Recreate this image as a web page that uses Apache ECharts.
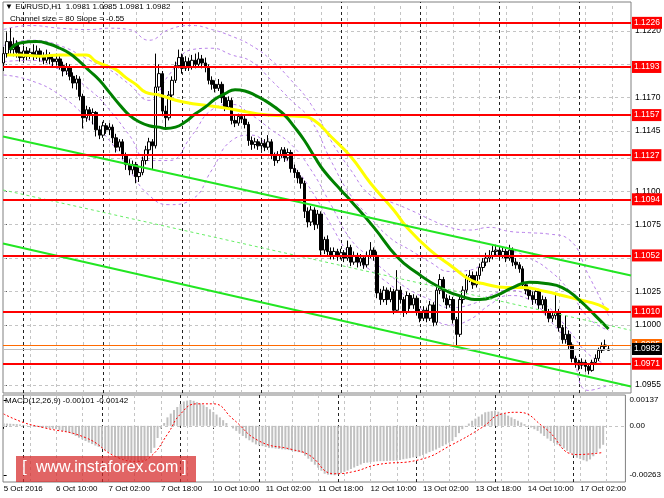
<!DOCTYPE html>
<html><head><meta charset="utf-8">
<script src="https://cdn.jsdelivr.net/npm/echarts@6/dist/echarts.min.js"></script>
<style>html,body{margin:0;padding:0;background:#fff}#c{width:664px;height:498px}</style>
</head><body><div id="c"></div>
<script>
// ---------- DATA (EURUSD H1) ----------
const opens = [
1.1196,1.1203,1.1212,1.1206,1.1210,1.1204,1.1200,1.1205,1.1201,1.1204,
1.1202,1.1205,1.1201,1.1198,1.1202,1.1199,1.1197,1.1199,1.1194,1.1190,
1.1193,1.1186,1.1181,1.1184,1.1171,1.1155,1.1161,1.1157,1.1159,1.1146,
1.1142,1.1149,1.1146,1.1148,1.1140,1.1133,1.1137,1.1127,1.1120,1.1116,
1.1120,1.1111,1.1114,1.1123,1.1131,1.1137,1.1134,1.1178,1.1188,1.1160,
1.1155,1.1172,1.1183,1.1194,1.1200,1.1192,1.1197,1.1193,1.1198,1.1195,
1.1199,1.1196,1.1193,1.1183,1.1180,1.1177,1.1180,1.1170,1.1163,1.1168,
1.1153,1.1151,1.1156,1.1154,1.1150,1.1138,1.1135,1.1137,1.1134,1.1136,
1.1133,1.1137,1.1127,1.1123,1.1127,1.1131,1.1125,1.1129,1.1117,1.1114,
1.1110,1.1106,1.1085,1.1077,1.1086,1.1075,1.1083,1.1056,1.1064,1.1055,
1.1052,1.1055,1.1051,1.1054,1.1050,1.1058,1.1047,1.1052,1.1047,1.1050,
1.1045,1.1052,1.1056,1.1052,1.1024,1.1019,1.1026,1.1019,1.1025,1.1011,
1.1026,1.1019,1.1010,1.1022,1.1015,1.1020,1.1010,1.1005,1.1011,1.1005,
1.1015,1.1002,1.1026,1.1034,1.1020,1.1015,1.1019,1.1004,1.0993,1.1019,
1.1026,1.1035,1.1037,1.1030,1.1037,1.1043,1.1047,1.1050,1.1052,1.1055,
1.1056,1.1052,1.1055,1.1050,1.1056,1.1047,1.1045,1.1042,1.1030,1.1026,
1.1022,1.1019,1.1025,1.1015,1.1019,1.1010,1.1005,1.1007,1.1010,1.0998,
1.0989,1.0993,1.0985,1.0975,1.0972,1.0970,1.0972,1.0969,1.0966,1.0972,
1.0975,1.0981,1.0984,1.0981];
const closes = [
1.1203,1.1212,1.1206,1.1210,1.1204,1.1200,1.1205,1.1201,1.1204,1.1202,
1.1205,1.1201,1.1198,1.1202,1.1199,1.1197,1.1199,1.1194,1.1190,1.1193,
1.1186,1.1181,1.1184,1.1171,1.1155,1.1161,1.1157,1.1159,1.1146,1.1142,
1.1149,1.1146,1.1148,1.1140,1.1133,1.1137,1.1127,1.1120,1.1116,1.1120,
1.1111,1.1114,1.1123,1.1131,1.1137,1.1134,1.1178,1.1188,1.1160,1.1155,
1.1172,1.1183,1.1194,1.1200,1.1192,1.1197,1.1193,1.1198,1.1195,1.1199,
1.1196,1.1193,1.1183,1.1180,1.1177,1.1180,1.1170,1.1163,1.1168,1.1153,
1.1151,1.1156,1.1154,1.1150,1.1138,1.1135,1.1137,1.1134,1.1136,1.1133,
1.1137,1.1127,1.1123,1.1127,1.1131,1.1125,1.1129,1.1117,1.1114,1.1110,
1.1106,1.1085,1.1077,1.1086,1.1075,1.1083,1.1056,1.1064,1.1055,1.1052,
1.1055,1.1051,1.1054,1.1050,1.1058,1.1047,1.1052,1.1047,1.1050,1.1045,
1.1052,1.1056,1.1052,1.1024,1.1019,1.1026,1.1019,1.1025,1.1011,1.1026,
1.1019,1.1010,1.1022,1.1015,1.1020,1.1010,1.1005,1.1011,1.1005,1.1015,
1.1002,1.1026,1.1034,1.1020,1.1015,1.1019,1.1004,1.0993,1.1019,1.1026,
1.1035,1.1037,1.1030,1.1037,1.1043,1.1047,1.1050,1.1052,1.1055,1.1056,
1.1052,1.1055,1.1050,1.1056,1.1047,1.1045,1.1042,1.1030,1.1026,1.1022,
1.1019,1.1025,1.1015,1.1019,1.1010,1.1005,1.1007,1.1010,1.0998,1.0989,
1.0993,1.0985,1.0975,1.0972,1.0970,1.0972,1.0969,1.0966,1.0972,1.0975,
1.0981,1.0984,1.0985,1.0982];
const lows = [
1.1190,1.1200,1.1203,1.1201,1.1200,1.1197,1.1198,1.1198,1.1199,1.1198,
1.1199,1.1197,1.1195,1.1196,1.1195,1.1193,1.1194,1.1191,1.1186,1.1187,
1.1183,1.1177,1.1176,1.1168,1.1147,1.1152,1.1153,1.1150,1.1141,1.1139,
1.1140,1.1143,1.1142,1.1136,1.1129,1.1130,1.1124,1.1116,1.1112,1.1113,
1.1106,1.1107,1.1112,1.1120,1.1128,1.1116,1.1132,1.1175,1.1157,1.1147,
1.1153,1.1170,1.1181,1.1192,1.1188,1.1190,1.1190,1.1191,1.1192,1.1193,
1.1192,1.1189,1.1180,1.1176,1.1174,1.1175,1.1166,1.1160,1.1161,1.1150,
1.1148,1.1149,1.1151,1.1147,1.1134,1.1131,1.1132,1.1131,1.1131,1.1130,
1.1131,1.1124,1.1119,1.1121,1.1125,1.1122,1.1123,1.1114,1.1110,1.1106,
1.1102,1.1080,1.1073,1.1074,1.1071,1.1072,1.1052,1.1053,1.1051,1.1049,
1.1049,1.1048,1.1049,1.1047,1.1048,1.1044,1.1045,1.1043,1.1044,1.1042,
1.1043,1.1050,1.1048,1.1020,1.1015,1.1017,1.1015,1.1017,1.1008,1.1009,
1.1016,1.1006,1.1008,1.1012,1.1012,1.1007,1.1002,1.1003,1.1002,1.1003,
1.0999,1.1000,1.1023,1.1017,1.1012,1.1013,1.1001,1.0985,1.0991,1.1016,
1.1023,1.1032,1.1027,1.1028,1.1034,1.1040,1.1044,1.1047,1.1049,1.1051,
1.1049,1.1050,1.1047,1.1048,1.1044,1.1042,1.1039,1.1027,1.1023,1.1019,
1.1015,1.1016,1.1012,1.1012,1.1007,1.1002,1.1002,1.1004,1.0995,1.0986,
1.0986,1.0982,1.0972,1.0968,1.0966,1.0967,1.0965,1.0963,1.0965,1.0970,
1.0973,1.0979,1.0981,1.0981];
const highs = [
1.1208,1.1219,1.1222,1.1215,1.1213,1.1208,1.1209,1.1208,1.1207,1.1210,
1.1209,1.1207,1.1204,1.1206,1.1204,1.1202,1.1203,1.1201,1.1197,1.1196,
1.1195,1.1189,1.1187,1.1186,1.1173,1.1164,1.1163,1.1162,1.1160,1.1149,
1.1152,1.1151,1.1151,1.1150,1.1143,1.1139,1.1139,1.1129,1.1124,1.1123,
1.1122,1.1118,1.1126,1.1134,1.1140,1.1139,1.1203,1.1195,1.1190,1.1164,
1.1175,1.1186,1.1197,1.1206,1.1203,1.1201,1.1200,1.1202,1.1203,1.1204,
1.1202,1.1200,1.1195,1.1186,1.1183,1.1184,1.1182,1.1172,1.1171,1.1170,
1.1157,1.1158,1.1158,1.1157,1.1152,1.1141,1.1140,1.1139,1.1140,1.1139,
1.1142,1.1139,1.1129,1.1130,1.1133,1.1133,1.1132,1.1131,1.1120,1.1116,
1.1112,1.1108,1.1088,1.1089,1.1088,1.1086,1.1085,1.1066,1.1067,1.1058,
1.1058,1.1057,1.1057,1.1056,1.1063,1.1060,1.1055,1.1054,1.1053,1.1052,
1.1055,1.1062,1.1058,1.1055,1.1027,1.1029,1.1028,1.1028,1.1027,1.1041,
1.1029,1.1021,1.1025,1.1024,1.1023,1.1022,1.1012,1.1014,1.1013,1.1018,
1.1017,1.1029,1.1038,1.1036,1.1023,1.1022,1.1021,1.1006,1.1022,1.1029,
1.1038,1.1041,1.1040,1.1040,1.1046,1.1050,1.1054,1.1056,1.1059,1.1060,
1.1059,1.1058,1.1057,1.1060,1.1058,1.1050,1.1047,1.1044,1.1032,1.1028,
1.1025,1.1027,1.1027,1.1022,1.1021,1.1012,1.1010,1.1024,1.1012,1.1000,
1.1007,1.0996,1.0987,1.0977,1.0974,1.0975,1.0974,1.0971,1.0974,1.0978,
1.0983,1.0987,1.0989,1.0985];

// moving averages (read at sample bars)
const greenBars = [2,5,10,14,17,20,23,26,29,32,35,38,41,44,47,49,52,55,58,61,64,67,70,73,76,79,82,85,88,91,94,97,102,105,112,119,125,132,139,144,149,154,159,164,169,174,179,183];
const greenVals = [1.1206,1.1211,1.1212,1.1210,1.1207,1.1203,1.1197,1.1190,1.1183,1.1174,1.1165,1.1157,1.1152,1.1149,1.1148,1.1147,1.1148,1.1152,1.1158,1.1163,1.1169,1.1173,1.1176,1.1175,1.1172,1.1168,1.1163,1.1157,1.1148,1.1138,1.1126,1.1115,1.1101,1.1093,1.1073,1.1051,1.1039,1.1028,1.1021,1.1019,1.1022,1.1028,1.1032,1.1031,1.1028,1.1019,1.1007,1.0997];
const yellowBars = [1,5,11,17,22,25,28,31,34,37,40,43,47,54,65,70,80,90,94,99,105,111,118,122,129,136,141,145,152,157,164,169,174,180,183];
const yellowVals = [1.1202,1.1202,1.1201,1.1202,1.1202,1.1202,1.1197,1.1194,1.1191,1.1185,1.1180,1.1174,1.1172,1.1167,1.1163,1.1161,1.1157,1.1156,1.1153,1.1141,1.1126,1.1106,1.1086,1.1073,1.1056,1.1043,1.1034,1.1031,1.1028,1.1028,1.1025,1.1022,1.1019,1.1015,1.1011];

// envelope / band lines (violet dashed)
const bandBars = [0,8,17,26,32,38,44,50,57,63,69,75,81,87,93,99,105,111,117,123,129,135,141,147,153,159,165,171,177,183];
const bandUpper1 = [1.1221,1.1224,1.1222,1.1221,1.1222,1.1221,1.1213,1.1221,1.1224,1.1221,1.1216,1.1209,1.1198,1.1183,1.1165,1.1138,1.1116,1.1097,1.1092,1.1086,1.1079,1.1073,1.1071,1.1073,1.1070,1.1069,1.1068,1.1064,1.1037,1.1007];
const bandLower1 = [1.1187,1.1183,1.1172,1.1153,1.1138,1.1116,1.1097,1.1090,1.1094,1.1116,1.1138,1.1142,1.1131,1.1120,1.1101,1.1075,1.1052,1.1041,1.1030,1.1019,1.1007,1.1000,1.1004,1.1015,1.1022,1.1019,1.1004,1.0985,1.0951,1.0955];
const bandUpper2 = [1.1209,1.1213,1.1209,1.1198,1.1191,1.1180,1.1168,1.1187,1.1206,1.1207,1.1202,1.1197,1.1183,1.1168,1.1153,1.1123,1.1097,1.1080,1.1065,1.1056,1.1047,1.1040,1.1041,1.1050,1.1055,1.1050,1.1041,1.1026,1.1005,1.0996];
const bandLower2 = [1.1197,1.1198,1.1191,1.1176,1.1161,1.1142,1.1123,1.1123,1.1142,1.1161,1.1165,1.1157,1.1146,1.1135,1.1116,1.1090,1.1064,1.1050,1.1037,1.1026,1.1019,1.1013,1.1015,1.1022,1.1026,1.1022,1.1013,1.0996,1.0978,1.0970];

// regression channel (ends at the chart edges)
const channelUpper = [1.1141, 1.1037];
const channelMiddle = [1.1101, 1.0996];
const channelLower = [1.1061, 1.0954];

// horizontal levels
const levels = [1.1226, 1.1193, 1.1157, 1.1127, 1.1094, 1.1052, 1.1010, 1.0971];
const orangeLevel = 1.0985;
const bidPrice = 1.0982;

// MACD(12,26,9)
const macdHist = [
0.00013,0.00012,0.00011,0.00010,0.00009,0.00007,0.00005,0.00002,0,-0.00002,
-0.00004,-0.00007,-0.00009,-0.00011,-0.00013,-0.00016,-0.00018,-0.00022,-0.00027,-0.00031,
-0.00036,-0.00045,-0.00054,-0.00063,-0.00072,-0.00081,-0.00089,-0.00097,-0.00105,-0.00112,
-0.00120,-0.00130,-0.00140,-0.00150,-0.00160,-0.00170,-0.00174,-0.00178,-0.00181,-0.00183,
-0.00185,-0.00186,-0.00185,-0.00182,-0.00165,-0.00145,-0.00117,-0.00065,-0.00015,0.00015,
0.00045,0.00065,0.00084,0.00100,0.00116,0.00130,0.00134,0.00137,0.00133,0.00126,
0.00119,0.00110,0.00100,0.00088,0.00074,0.00060,0.00045,0.00030,0.00015,0,
-0.00014,-0.00027,-0.00041,-0.00054,-0.00066,-0.00077,-0.00088,-0.00099,-0.00104,-0.00108,
-0.00113,-0.00117,-0.00119,-0.00121,-0.00123,-0.00125,-0.00126,-0.00129,-0.00133,-0.00137,
-0.00140,-0.00144,-0.00159,-0.00175,-0.00191,-0.00207,-0.00223,-0.00239,-0.00255,-0.00260,
-0.00262,-0.00263,-0.00258,-0.00252,-0.00245,-0.00238,-0.00230,-0.00222,-0.00214,-0.00206,
-0.00198,-0.00196,-0.00193,-0.00191,-0.00189,-0.00188,-0.00188,-0.00187,-0.00186,-0.00186,
-0.00185,-0.00182,-0.00178,-0.00175,-0.00172,-0.00168,-0.00165,-0.00162,-0.00155,-0.00148,
-0.00140,-0.00133,-0.00126,-0.00117,-0.00108,-0.00099,-0.00090,-0.00081,-0.00060,-0.00039,
-0.00018,-0.00003,0.00012,0.00027,0.00038,0.00049,0.00061,0.00072,0.00075,0.00078,
0.00081,0.00075,0.00069,0.00063,0.00054,0.00045,0.00036,0.00027,0.00018,0.00009,
0,-0.00009,-0.00018,-0.00027,-0.00041,-0.00054,-0.00068,-0.00081,-0.00091,-0.00100,
-0.00110,-0.00120,-0.00133,-0.00145,-0.00158,-0.00170,-0.00176,-0.00183,-0.00189,-0.00179,
-0.00162,-0.00142,-0.00121,-0.00101];
const signalBars = [0,6,12,25,35,41,45,50,54,59,64,70,78,88,93,101,107,114,127,137,146,152,157,165,175,183];
const signalVals = [0.00063,0.00018,-0.00009,-0.00063,-0.00170,-0.00189,-0.00162,-0.00045,0.00063,0.00117,0.00117,0.00036,-0.00081,-0.00126,-0.00153,-0.00255,-0.00243,-0.00207,-0.00180,-0.00099,-0.00009,0.00063,0.00072,-0.00009,-0.00153,-0.00142];

// axes
const tickBars = [0,16,32,48,64,80,96,112,128,144,160,176];
const tickLabels = ['5 Oct 2016','6 Oct 10:00','7 Oct 02:00','7 Oct 18:00','10 Oct 10:00','11 Oct 02:00','11 Oct 18:00','12 Oct 10:00','13 Oct 02:00','13 Oct 18:00','14 Oct 10:00','17 Oct 02:00'];
const daySeparatorBars = [6,30,54,78,102,126,150,174];
const priceTicks = [1.0955,1.1000,1.1025,1.1050,1.1075,1.1100,1.1125,1.1145,1.1170,1.1195,1.1220];
const macdTicks = [-0.00263, 0, 0.00137];

// ---------- CHART ----------
const FONT = '"Liberation Sans", Arial, sans-serif';
const X_MIN = -0.2, X_MAX = 189.8;
const Y_MIN = 1.09491, Y_MAX = 1.12416;
const M_MIN = -0.00299, M_MAX = 0.00164;
const gridBars = [];
for (let b = 8; b < X_MAX; b += 8) gridBars.push(b);

const chart = echarts.init(document.getElementById('c'), null, {renderer: 'canvas'});

function helper(xi, extra) {
  return Object.assign({
    type: 'line', xAxisIndex: xi, yAxisIndex: xi, data: [], silent: true,
    showSymbol: false, clip: false, animation: false
  }, extra);
}
function ml(data, lineStyle, z) {
  return { silent: true, symbol: ['none','none'], precision: 5, animation: false,
    label: {show: false}, lineStyle: lineStyle, data: data, z: z };
}
function levelLabel(bg) {
  return { show: true, position: 'end', formatter: '{b}', distance: 1,
    backgroundColor: bg, color: '#fff', fontSize: 8.5, fontFamily: FONT,
    padding: [2, 2, 1, 2] };
}

const option = {
  animation: false,
  backgroundColor: '#ffffff',
  grid: [
    {left: 3, top: 2, width: 629, height: 391, show: true, borderColor: '#808080', borderWidth: 1, backgroundColor: '#fff'},
    {left: 3, top: 395, width: 629, height: 87, show: true, borderColor: '#808080', borderWidth: 1, backgroundColor: '#fff'}
  ],
  xAxis: [
    {type: 'value', gridIndex: 0, min: X_MIN, max: X_MAX, axisLine: {show: false}, axisTick: {show: false}, axisLabel: {show: false}, splitLine: {show: false}},
    {type: 'value', gridIndex: 1, min: X_MIN, max: X_MAX, axisLine: {show: false},
     axisTick: {show: true, customValues: tickBars, length: 3, lineStyle: {color: '#000'}},
     axisLabel: {customValues: tickBars, formatter: v => tickLabels[tickBars.indexOf(v)], align: 'left', margin: 3,
       fontSize: 8, fontFamily: FONT, color: '#000', hideOverlap: false},
     splitLine: {show: false}}
  ],
  yAxis: [
    {type: 'value', gridIndex: 0, position: 'right', min: Y_MIN, max: Y_MAX, axisLine: {show: false},
     axisTick: {show: true, customValues: priceTicks, length: 3, lineStyle: {color: '#000'}},
     axisLabel: {customValues: priceTicks, formatter: v => v.toFixed(4), margin: 4, fontSize: 8.5, fontFamily: FONT, color: '#000'},
     splitLine: {show: false}},
    {type: 'value', gridIndex: 1, position: 'right', min: M_MIN, max: M_MAX, axisLine: {show: false},
     axisTick: {show: true, customValues: macdTicks, length: 3, lineStyle: {color: '#000'}},
     axisLabel: {customValues: macdTicks, formatter: v => (v === 0 ? '0.00' : v.toFixed(5)), margin: 4, fontSize: 8, fontFamily: FONT, color: '#000'},
     splitLine: {show: false}}
  ],
  series: [
    // grid lines, main panel
    helper(0, {z: 1, markLine: ml(
      priceTicks.map(v => ({yAxis: v})).concat(gridBars.map(b => ({xAxis: b}))),
      {color: '#c4c4c4', type: [3, 3], width: 1}, 1)}),
    helper(0, {z: 1, markLine: ml(daySeparatorBars.map(b => ({xAxis: b})), {color: '#222', type: [3, 3], width: 1}, 1)}),
    // grid lines, MACD panel
    helper(1, {z: 1, markLine: ml(
      [{yAxis: 0}].concat(gridBars.map(b => ({xAxis: b}))),
      {color: '#c4c4c4', type: [3, 3], width: 1}, 1)}),
    helper(1, {z: 1, markLine: ml(daySeparatorBars.map(b => ({xAxis: b})), {color: '#222', type: [3, 3], width: 1}, 1)}),
    // candles
    {type: 'candlestick', xAxisIndex: 0, yAxisIndex: 0, z: 3, barWidth: 3,
     data: opens.map((o, i) => [i, o, closes[i], lows[i], highs[i]]),
     encode: {x: 0, y: [1, 2, 3, 4]},
     itemStyle: {color: '#ffffff', color0: '#000000', borderColor: '#000000', borderColor0: '#000000', borderWidth: 1}},
    // violet bands
    ...[bandUpper1, bandLower1, bandUpper2, bandLower2].map(arr => ({
      type: 'line', xAxisIndex: 0, yAxisIndex: 0, z: 2, smooth: 0.5, showSymbol: false, silent: true,
      data: bandBars.map((b, i) => [b, arr[i]]),
      lineStyle: {color: '#b982ea', width: 1, type: [3, 3]}})),
    // moving averages
    {type: 'line', xAxisIndex: 0, yAxisIndex: 0, z: 4, smooth: 0.5, showSymbol: false, silent: true,
     data: yellowBars.map((b, i) => [b, yellowVals[i]]), lineStyle: {color: '#ffff00', width: 3}},
    {type: 'line', xAxisIndex: 0, yAxisIndex: 0, z: 4, smooth: 0.5, showSymbol: false, silent: true,
     data: greenBars.map((b, i) => [b, greenVals[i]]), lineStyle: {color: '#008000', width: 3}},
    // channel
    {type: 'line', xAxisIndex: 0, yAxisIndex: 0, z: 5, showSymbol: false, silent: true,
     data: [[X_MIN, channelUpper[0]], [X_MAX, channelUpper[1]]], lineStyle: {color: '#22e622', width: 2}},
    {type: 'line', xAxisIndex: 0, yAxisIndex: 0, z: 5, showSymbol: false, silent: true,
     data: [[X_MIN, channelLower[0]], [X_MAX, channelLower[1]]], lineStyle: {color: '#22e622', width: 2}},
    {type: 'line', xAxisIndex: 0, yAxisIndex: 0, z: 5, showSymbol: false, silent: true,
     data: [[X_MIN, channelMiddle[0]], [X_MAX, channelMiddle[1]]], lineStyle: {color: '#66ee66', width: 1, type: [3, 3]}},
    // red levels
    helper(0, {z: 6, markLine: Object.assign(ml(levels.map(v => ({yAxis: v, name: v.toFixed(4)})), {color: '#ff0000', width: 2, type: 'solid'}, 6),
      {label: levelLabel('#ff0000')})}),
    // orange line
    helper(0, {z: 7, markLine: Object.assign(ml([{yAxis: orangeLevel, name: orangeLevel.toFixed(4)}], {color: '#ff6a00', width: 1, type: 'solid'}, 7),
      {label: levelLabel('#ff6a00')})}),
    // bid line
    helper(0, {z: 8, markLine: Object.assign(ml([{yAxis: bidPrice, name: bidPrice.toFixed(4)}], {color: '#c0c0c0', width: 1, type: 'solid'}, 8),
      {label: levelLabel('#000000')})}),
    // MACD
    {type: 'bar', xAxisIndex: 1, yAxisIndex: 1, z: 3, barWidth: 2, silent: true,
     data: macdHist.map((v, i) => [i, v]), itemStyle: {color: '#c0c0c0'}},
    {type: 'line', xAxisIndex: 1, yAxisIndex: 1, z: 4, smooth: 0.5, showSymbol: false, silent: true,
     data: signalBars.map((b, i) => [b, signalVals[i]]), lineStyle: {color: '#ff0000', width: 1, type: [2, 2]}}
  ],
  graphic: [
    {type: 'text', left: 5, top: 3, z: 50, style: {text: '\u25BC EURUSD,H1  1.0981 1.0985 1.0981 1.0982', font: '8px ' + FONT, fill: '#000'}},
    {type: 'text', left: 10, top: 15, z: 50, style: {text: 'Channel size = 80 Slope = -0.55', font: '8px ' + FONT, fill: '#000'}},
    {type: 'text', left: 5, top: 397, z: 50, style: {text: 'MACD(12,26,9) -0.00101 -0.00142', font: '8px ' + FONT, fill: '#000'}},
    {type: 'rect', left: 16, top: 456, z: 60, shape: {width: 180, height: 26}, style: {fill: 'rgba(214,40,40,0.72)'}},
    {type: 'text', left: 22, top: 459, z: 61, style: {text: '[', font: '17px ' + FONT, fill: '#fff'}},
    {type: 'text', left: 36, top: 460, z: 61, style: {text: 'www.instaforex.com', font: '16px ' + FONT, fill: '#fff'}},
    {type: 'text', left: 182, top: 459, z: 61, style: {text: ']', font: '17px ' + FONT, fill: '#fff'}}
  ]
};
chart.setOption(option);
</script>
</body></html>
